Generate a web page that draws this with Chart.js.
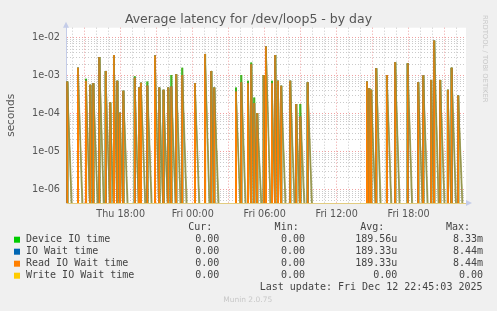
<!DOCTYPE html>
<html><head><meta charset="utf-8">
<script src="https://cdn.jsdelivr.net/npm/chart.js@4/dist/chart.umd.min.js"></script>
<style>html,body{margin:0;padding:0;background:#f0f0f0;}canvas{display:block}</style>
</head><body>
<canvas id="c" width="497" height="311"></canvas>
<script>
// ---- time axis (hours since Thu 00:00) ----
const xStart = 13.44, xEnd = 46.78;
const tickHours = [14,15,16,17,18,19,20,21,22,23,24,25,26,27,28,29,30,31,32,33,34,35,36,37,38,39,40,41,42,43,44,45,46];
const tickLabelHours = [18,24,30,36,42];
const tickLabelText = ['Thu 18:00','Fri 00:00','Fri 06:00','Fri 12:00','Fri 18:00'];
// ---- value axis ----
const yMin = 4.36e-7, yMax = 0.0183;
const yDecades = [1e-6,1e-5,1e-4,1e-3,1e-2];
const yDecadeLabels = ['1e-06','1e-05','1e-04','1e-03','1e-02'];
// ---- spikes ----
const spikeHours = [13.55,14.44,15.11,15.47,15.72,16.22,16.75,17.13,17.44,17.72,17.94,18.22,19.17,19.53,19.69,20.22,20.86,21.22,21.57,21.97,22.22,22.63,23.13,24.19,25.03,25.55,25.80,27.61,28.05,28.61,28.88,29.13,29.38,29.92,30.11,30.61,30.88,31.11,31.38,32.13,32.63,32.97,33.58,38.53,38.72,38.88,39.30,40.19,40.88,41.92,42.80,43.22,43.88,44.13,44.63,45.27,45.58,46.13];
const readPeak = [6.95e-4,1.62e-3,7.26e-4,5.69e-4,6.31e-4,3.1e-3,1.33e-3,1.95e-4,3.5e-3,7.26e-4,1.05e-4,3.96e-4,8.7e-4,4.83e-4,6.43e-4,5.5e-4,3.36e-3,4.83e-4,4.2e-4,4.83e-4,5.14e-4,1.09e-3,1.04e-3,6.31e-4,3.73e-3,1.33e-3,4.83e-4,3.79e-4,6.7e-4,6.31e-4,2.0e-3,1.88e-4,1.03e-4,1.04e-3,5.8e-3,6.31e-4,3.5e-3,7.26e-4,5.36e-4,7.26e-4,1.77e-4,8.3e-5,6.7e-4,6.95e-4,4.66e-4,4.2e-4,1.57e-3,1.04e-3,2.25e-3,2.12e-3,6.7e-4,1.0e-3,7.7e-4,8.44e-3,7.7e-4,4.2e-4,1.62e-3,2.98e-4];
const ioWaitPeak = readPeak.slice();
const devicePeak = [6.95e-4,1.62e-3,8.19e-4,5.69e-4,6.31e-4,3.1e-3,1.33e-3,1.95e-4,3.5e-3,7.26e-4,1.05e-4,3.96e-4,9.6e-4,4.83e-4,6.43e-4,6.95e-4,3.36e-3,4.83e-4,4.2e-4,4.83e-4,1.04e-3,1.09e-3,1.62e-3,6.31e-4,3.73e-3,1.33e-3,4.83e-4,4.83e-4,1.04e-3,7.26e-4,2.2e-3,2.64e-4,1.03e-4,1.04e-3,5.8e-3,7.26e-4,3.5e-3,7.26e-4,5.36e-4,7.26e-4,1.77e-4,1.77e-4,6.7e-4,6.95e-4,4.66e-4,4.2e-4,1.57e-3,1.04e-3,2.25e-3,2.12e-3,6.7e-4,1.0e-3,7.7e-4,8.33e-3,7.7e-4,4.2e-4,1.62e-3,2.98e-4];
const writePeak = [];
// ---- legend table ----
const seriesNames = ['Device IO time','IO Wait time','Read IO Wait time','Write IO Wait time'];
const seriesColors = ['#00CC00','#0066B3','#FF8000','#FFCC00'];
const curVals = ['0.00','0.00','0.00','0.00'];
const minVals = ['0.00','0.00','0.00','0.00'];
const avgVals = ['189.56u','189.33u','189.33u','0.00'];
const maxVals = ['8.33m','8.44m','8.44m','0.00'];

const ZERO = 1e-7; // zero samples lie below the log axis floor
function build(peaks, decay){
  const pts = [{x:xStart,y:ZERO}];
  peaks.forEach((p,i)=>{
    const t = spikeHours[i];
    const next = i+1 < spikeHours.length ? spikeHours[i+1] : xEnd;
    pts.push({x:t,y:ZERO},{x:t,y:p},{x:Math.min(t+decay,next),y:ZERO});
  });
  pts.push({x:xEnd,y:ZERO});
  return pts;
}
const OLIVE = 'rgba(140,140,60,0.62)';
const isFall = c => c.p1.parsed.x > c.p0.parsed.x && c.p1.parsed.y < c.p0.parsed.y;
const fall = c => isFall(c) ? OLIVE : undefined;
const fallW = c => isFall(c) ? 1.3 : undefined;
const RED = 'rgba(225,70,70,0.5)', GRAY = 'rgba(150,150,150,0.5)';
const FONT = 'DejaVu Sans';
function isDecade(v){ return yDecades.findIndex(d=>Math.abs(v/d-1)<1e-6); }
const yTickValues = [];
[1e-7,1e-6,1e-5,1e-4,1e-3].forEach(d=>{ for(let m=1;m<10;m++){ const v=d*m; if(v>=yMin&&v<=yMax) yTickValues.push(v);} });
yTickValues.push(1e-2);

const deco = {
  id:'deco',
  beforeDraw(chart){
    const {ctx, chartArea:a} = chart;
    ctx.save();
    ctx.fillStyle='#f0f0f0'; ctx.fillRect(0,0,chart.width,chart.height);
    ctx.fillStyle='#ffffff'; ctx.fillRect(a.left,a.top,a.right-a.left,a.bottom-a.top);
    ctx.restore();
  },
  afterDraw(chart){
    const {ctx, chartArea:a} = chart;
    ctx.save();
    ctx.fillStyle='#c4cce8';
    ctx.beginPath(); ctx.moveTo(a.left-3,a.top); ctx.lineTo(a.left+3,a.top); ctx.lineTo(a.left,a.top-6); ctx.fill();
    ctx.beginPath(); ctx.moveTo(a.right,a.bottom-3); ctx.lineTo(a.right,a.bottom+3); ctx.lineTo(a.right+6,a.bottom); ctx.fill();
    ctx.fillStyle='#555'; ctx.font='12.5px "'+FONT+'"'; ctx.textAlign='center'; ctx.textBaseline='middle';
    ctx.fillText('Average latency for /dev/loop5 - by day',248.5,20);
    ctx.save(); ctx.translate(484.5,15); ctx.rotate(Math.PI/2);
    ctx.fillStyle='#c8c8c8'; ctx.font='6.8px "'+FONT+'"'; ctx.textAlign='left'; ctx.textBaseline='middle';
    ctx.fillText('RRDTOOL / TOBI OETIKER',0,0); ctx.restore();
    ctx.font='10px "DejaVu Sans Mono"'; ctx.fillStyle='#444'; ctx.textBaseline='middle';
    ctx.textAlign='right';
    ctx.fillText('Cur:',212.3,227.7); ctx.fillText('Min:',298.7,227.7); ctx.fillText('Avg:',384.3,227.7); ctx.fillText('Max:',470,227.7);
    seriesNames.forEach((n,i)=>{
      const y = 239.7 + 12*i;
      ctx.fillStyle=seriesColors[i]; ctx.fillRect(14,y-3,6,6);
      ctx.fillStyle='#444'; ctx.textAlign='left'; ctx.fillText(n,26,y);
      ctx.textAlign='right';
      ctx.fillText(curVals[i],219.3,y); ctx.fillText(minVals[i],305,y); ctx.fillText(avgVals[i],397.3,y); ctx.fillText(maxVals[i],483,y);
    });
    ctx.textAlign='right';
    ctx.fillText('Last update: Fri Dec 12 22:45:03 2025',482.5,287.7);
    ctx.fillStyle='#c8c8c8'; ctx.font='7.5px "'+FONT+'"'; ctx.textAlign='center';
    ctx.fillText('Munin 2.0.75',247.7,300);
    ctx.restore();
  }
};

new Chart(document.getElementById('c'),{
  type:'line',
  data:{datasets:[
    {label:seriesNames[3],data:build(writePeak,0.45),borderColor:seriesColors[3],order:0},
    {label:seriesNames[2],data:build(readPeak,0.4),borderColor:seriesColors[2],borderWidth:2,order:1,segment:{borderColor:fall,borderWidth:fallW}},
    {label:seriesNames[1],data:build(ioWaitPeak,0.4),borderColor:seriesColors[1],borderWidth:2,order:2,segment:{borderColor:fall,borderWidth:fallW}},
    {label:seriesNames[0],data:build(devicePeak,0.47),borderColor:seriesColors[0],borderWidth:2,order:3,segment:{borderColor:fall,borderWidth:fallW}}
  ]},
  options:{
    responsive:false, animation:false, devicePixelRatio:1,
    layout:{padding:{left:0,right:31,top:27.7,bottom:0}},
    elements:{point:{radius:0},line:{borderWidth:1,tension:0}},
    plugins:{legend:{display:false},title:{display:false},tooltip:{enabled:false}},
    scales:{
      x:{type:'linear',min:xStart,max:xEnd,
        afterBuildTicks:s=>{s.ticks=tickHours.map(v=>({value:v}));},
        afterFit:s=>{s.height=108;},
        ticks:{autoSkip:false,maxRotation:0,padding:5.5,color:'#555',font:{family:FONT,size:9.6},
          callback:v=>{const i=tickLabelHours.indexOf(v);return i>=0?tickLabelText[i]:'';}},
        grid:{drawTicks:false,lineWidth:1,color:c=>(c.tick&&c.tick.value%3===0)?RED:GRAY},
        border:{display:true,color:'#e2cc80',width:1,dash:[1,2]}
      },
      y:{type:'logarithmic',min:yMin,max:yMax,
        afterBuildTicks:s=>{s.ticks=yTickValues.map(v=>({value:v}));},
        afterFit:s=>{s.width=66;},
        ticks:{autoSkip:false,padding:6,color:'#555',font:{family:FONT,size:9.7},
          callback:v=>{const i=isDecade(v);return i>=0?yDecadeLabels[i]:'';}},
        grid:{drawTicks:false,lineWidth:1,color:c=>(c.tick&&isDecade(c.tick.value)>=0)?RED:GRAY},
        border:{display:true,color:'#c4cce8',width:1,dash:[1,2]},
        title:{display:true,text:'seconds',color:'#555',font:{family:FONT,size:10.5},padding:{top:4.5,bottom:0}}
      }
    }
  },
  plugins:[deco]
});
</script>
</body></html>
